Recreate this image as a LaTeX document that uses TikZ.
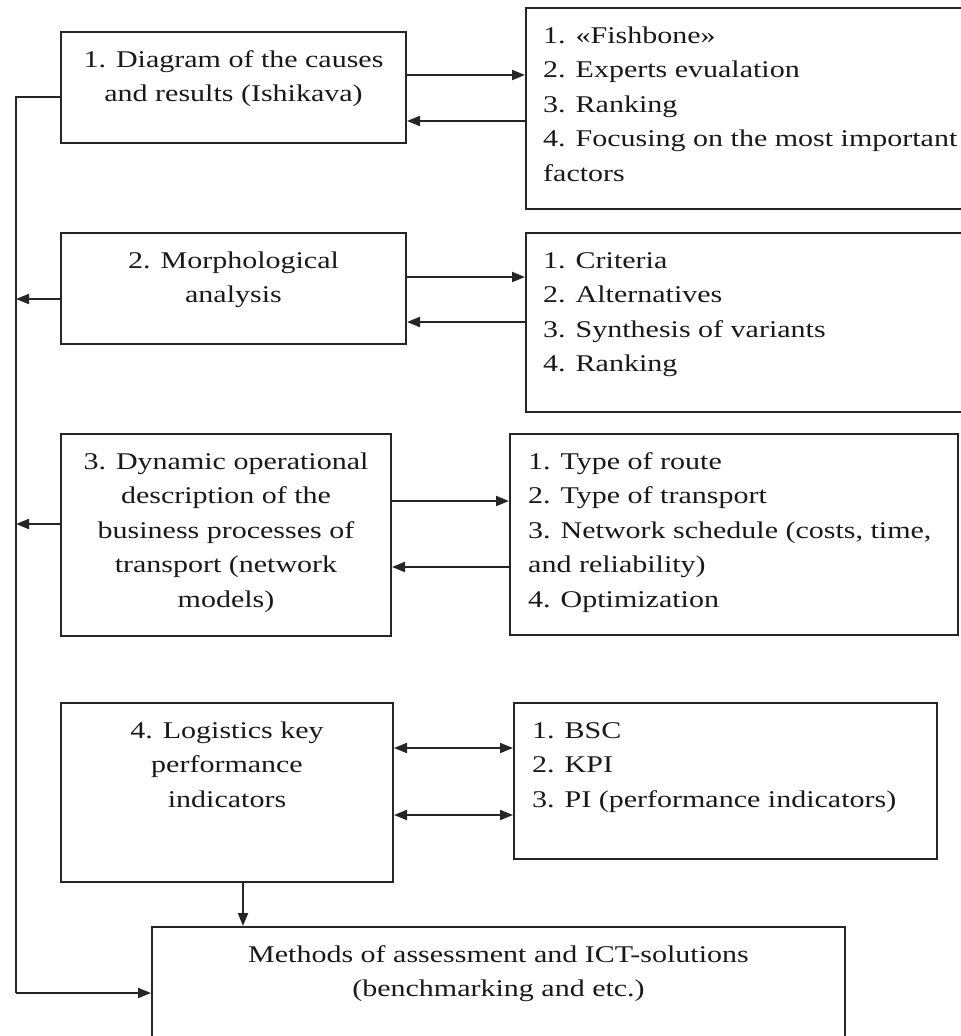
\documentclass[tikz,border=0pt]{standalone}
\usepackage{fontspec}
\setmainfont{Liberation Serif}[FakeStretch=1.25]
\usetikzlibrary{arrows.meta}
\begin{document}
\begin{tikzpicture}[x=1pt,y=-1pt,
  blk/.style={draw=black!85, line width=2pt, rectangle, inner sep=0pt},
  txt/.style={inner sep=0pt, font=\fontsize{24}{34.5}\selectfont, text=black!90},
  ctxt/.style={txt, align=center, anchor=north},
  ltxt/.style={txt, align=left, anchor=north west},
  tip/.tip={Triangle[length=13pt,width=10pt]},
  arr/.style={draw=black!85, line width=2pt, -tip},
  darr/.style={draw=black!85, line width=2pt, tip-tip},
  bus/.style={draw=black!85, line width=2pt}]
\clip (0,0) rectangle (961,1036);
\fill[white] (0,0) rectangle (961,1036);

% left-hand method blocks
\node[blk, minimum width=345pt, minimum height=111pt] (b1) at (233.5,87.5) {};
\node[blk, minimum width=345pt, minimum height=111pt] (b2) at (233.5,288.5) {};
\node[blk, minimum width=330pt, minimum height=202pt] (b3) at (226,535) {};
\node[blk, minimum width=332pt, minimum height=179pt] (b4) at (227,792.5) {};
\node[blk, minimum width=693pt, minimum height=133pt] (b5) at (498.5,993.5) {};

% right-hand detail blocks
\node[blk, minimum width=437pt, minimum height=201pt] (r1) at (744.5,108.5) {};
\node[blk, minimum width=437pt, minimum height=179pt] (r2) at (744.5,322.5) {};
\node[blk, minimum width=448pt, minimum height=201pt] (r3) at (734,534.5) {};
\node[blk, minimum width=423pt, minimum height=156pt] (r4) at (725.5,781) {};

% texts
\node[ctxt] (t1) at ([yshift=-12pt]b1.north) {\strut 1. Diagram of the causes\\and results (Ishikava)};
\node[ctxt] (t2) at ([yshift=-12pt]b2.north) {\strut 2. Morphological\\analysis};
\node[ctxt] (t3) at ([yshift=-12pt]b3.north) {\strut 3. Dynamic operational\\description of the\\business processes of\\transport (network\\models)};
\node[ctxt] (t4) at ([yshift=-12pt]b4.north) {\strut 4. Logistics key\\performance\\indicators};
\node[ctxt] (t5) at ([yshift=-12pt]b5.north) {\strut Methods of assessment and ICT-solutions\\(benchmarking and etc.)};

\node[ltxt] (s1) at ([xshift=18pt,yshift=-12pt]r1.north west) {\strut 1. «Fishbone»\\2. Experts evualation\\3. Ranking\\4. Focusing on the most important\\factors};
\node[ltxt] (s2) at ([xshift=18pt,yshift=-12pt]r2.north west) {\strut 1. Criteria\\2. Alternatives\\3. Synthesis of variants\\4. Ranking};
\node[ltxt] (s3) at ([xshift=19pt,yshift=-12pt]r3.north west) {\strut 1. Type of route\\2. Type of transport\\3. Network schedule (costs, time,\\and reliability)\\4. Optimization};
\node[ltxt] (s4) at ([xshift=19pt,yshift=-12pt]r4.north west) {\strut 1. BSC\\2. KPI\\3. PI (performance indicators)};

% connectors between the two columns
\draw[arr] (b1.east |- 0,75) -- (r1.west |- 0,75);
\draw[arr] (r1.west |- 0,121) -- (b1.east |- 0,121);
\draw[arr] (b2.east |- 0,277) -- (r2.west |- 0,277);
\draw[arr] (r2.west |- 0,322) -- (b2.east |- 0,322);
\draw[arr] (b3.east |- 0,501) -- (r3.west |- 0,501);
\draw[arr] (r3.west |- 0,567) -- (b3.east |- 0,567);
\draw[darr] (b4.east |- 0,748) -- (r4.west |- 0,748);
\draw[darr] (b4.east |- 0,815) -- (r4.west |- 0,815);

% feedback bus on the left
\coordinate (bustop) at (16,97);
\coordinate (busbot) at (16,993);
\coordinate (j2) at (16,299);
\coordinate (j3) at (16,524);
\draw[bus] (b1.west |- bustop) -- (bustop) -- (busbot);
\draw[arr] (busbot) -- (b5.west |- busbot);
\draw[arr] (b2.west |- j2) -- (j2);
\draw[arr] (b3.west |- j3) -- (j3);

% block 4 feeds the assessment block
\draw[arr] (b4.south -| 243,0) -- (b5.north -| 243,0);
\end{tikzpicture}
\end{document}
